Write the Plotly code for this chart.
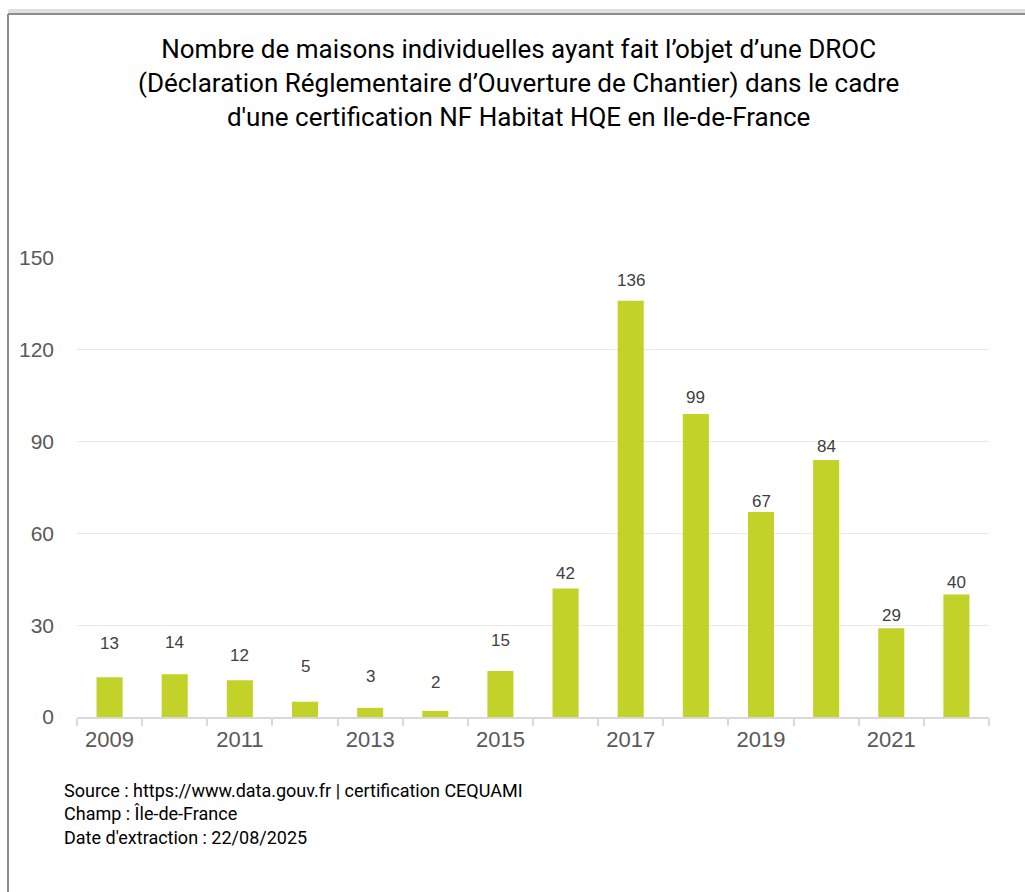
import plotly.graph_objects as go

years = [2009, 2010, 2011, 2012, 2013, 2014, 2015, 2016, 2017, 2018, 2019, 2020, 2021, 2022]
values = [13, 14, 12, 5, 3, 2, 15, 42, 136, 99, 67, 84, 29, 40]
x_tick_years = [2009, 2011, 2013, 2015, 2017, 2019, 2021]
y_ticks = [0, 30, 60, 90, 120, 150]

# style: vertical offset (px) of each value label above its bar top
label_offsets = [34, 32, 25, 35, 31, 28, 31, 15, 20, 17, 10, 13, 13, 12]

title_text = ("Nombre de maisons individuelles ayant fait l’objet d’une DROC<br>"
              "(Déclaration Réglementaire d’Ouverture de Chantier) dans le cadre<br>"
              "d'une certification NF Habitat HQE en Ile-de-France")
source_text = ("Source : https://www.data.gouv.fr | certification CEQUAMI<br>"
               "Champ : Île-de-France<br>"
               "Date d'extraction : 22/08/2025")

W, H = 1025, 892
ML, MR, MT, MB = 77, 36, 258, 175
PW, PH = W - ML - MR, H - MT - MB

def px(x):
    return (x - ML) / PW

def py(y):
    return (H - MB - y) / PH

fig = go.Figure()
fig.add_trace(go.Bar(
    x=years, y=values, width=0.4,
    marker=dict(color="#c3d229", line=dict(width=0)),
    hoverinfo="x+y",
))

for yr, v, off in zip(years, values, label_offsets):
    fig.add_annotation(
        x=yr, y=v, xref="x", yref="y", text=str(v), showarrow=False,
        yanchor="middle", xanchor="center", yshift=off,
        font=dict(family="Liberation Sans, Arial", size=17, color="#404040"),
    )

fig.update_layout(
    width=W, height=H,
    margin=dict(l=ML, r=MR, t=MT, b=MB),
    paper_bgcolor="white", plot_bgcolor="white",
    showlegend=False,
    xaxis=dict(
        range=[2008.5, 2022.5],
        tickvals=x_tick_years, ticktext=[str(y) for y in x_tick_years],
        ticks="", showgrid=False, zeroline=False,
        showline=True, linecolor="#d9d9d9", linewidth=2,
        tickfont=dict(family="Liberation Sans, Arial", size=22, color="#595959"),
        ticklabelstandoff=2,
        minor=dict(tick0=2008.5, dtick=1, ticks="outside", ticklen=7,
                   tickcolor="#d9d9d9", tickwidth=2, showgrid=False),
    ),
    yaxis=dict(
        range=[0, 150], tickvals=y_ticks,
        showgrid=True, gridcolor="#e8e8e8", gridwidth=1,
        zeroline=False, showline=False, ticks="",
        tickfont=dict(family="Liberation Sans, Arial", size=21, color="#595959"),
        ticklabelstandoff=22,
    ),
    font=dict(family="Roboto, Liberation Sans", color="#000000"),
)

fig.add_annotation(
    text=title_text, xref="paper", yref="paper",
    x=px(518), y=py(83), xanchor="center", yanchor="middle",
    showarrow=False, align="center",
    font=dict(family="Roboto", size=26, color="#000000"),
)
fig.add_annotation(
    text=source_text, xref="paper", yref="paper",
    x=px(62), y=py(778), xanchor="left", yanchor="top",
    showarrow=False, align="left",
    font=dict(family="Roboto", size=18, color="#000000"),
)

# chart frame (left and top border with light shadow)
fig.add_shape(type="line", xref="paper", yref="paper",
              x0=px(8), x1=px(1025), y0=py(11), y1=py(11),
              line=dict(color="#e0e0e0", width=4))
fig.add_shape(type="line", xref="paper", yref="paper",
              x0=px(8), x1=px(8), y0=py(14), y1=py(892),
              line=dict(color="#8c8c8c", width=2))
fig.add_shape(type="line", xref="paper", yref="paper",
              x0=px(8), x1=px(1025), y0=py(14), y1=py(14),
              line=dict(color="#8c8c8c", width=2))

fig.write_html("out.html")
